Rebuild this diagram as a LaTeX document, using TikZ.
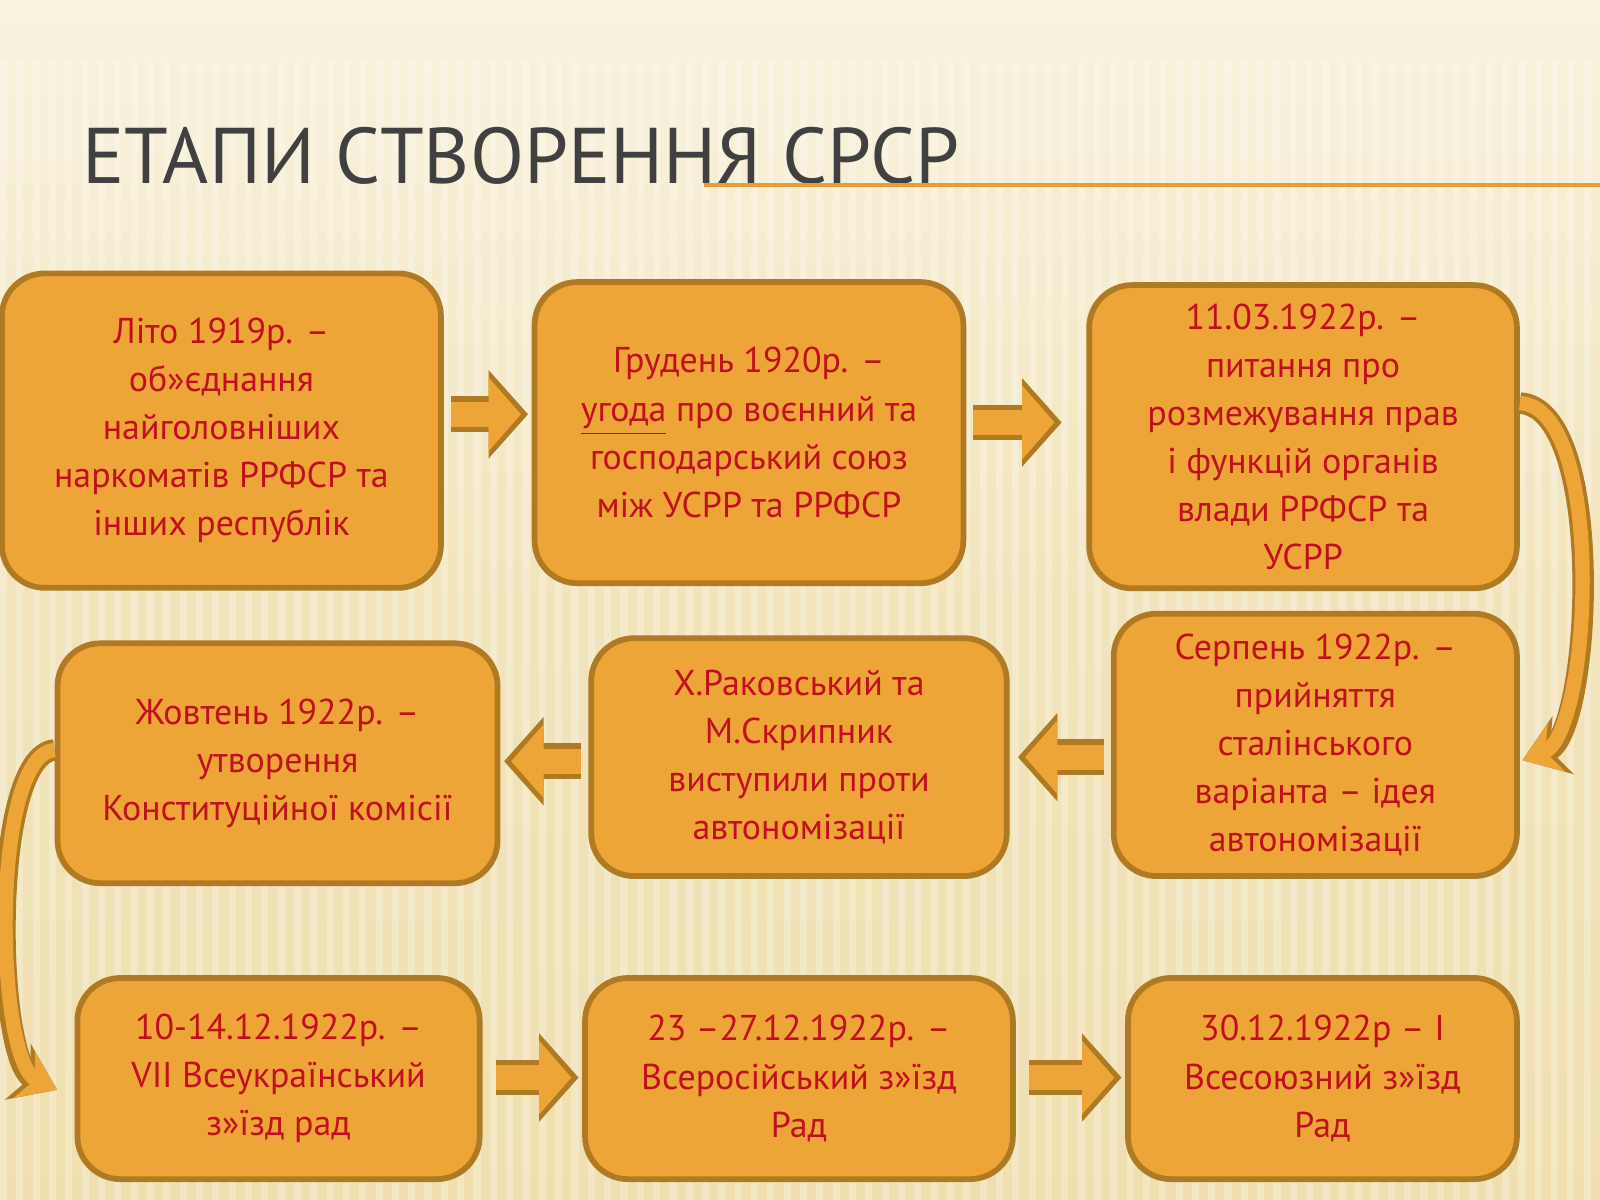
\documentclass[tikz,border=0pt]{standalone}
\usepackage{fontspec}
\setmainfont{PT Sans}
\usetikzlibrary{arrows.meta,shadings}
\definecolor{boxfill}{HTML}{EEA537}
\definecolor{boxline}{HTML}{B07A22}
\definecolor{txt}{HTML}{C0101E}
\definecolor{bgtan}{HTML}{EFDFB0}
\tikzset{
 stage/.style={draw=boxline,line width=1.6pt,fill=boxfill,rounded corners=0.42cm,align=center,text=txt,font=\fontsize{10pt}{13.4pt}\selectfont,inner sep=0pt},
 barrow/.style={line width=7pt,draw=boxfill,-{Triangle[length=9pt,width=20pt]},shorten <=2pt,shorten >=3pt,
   preaction={draw=boxline,line width=10pt,-{Triangle[length=11pt,width=24pt]},shorten <=2pt,shorten >=1pt}},
 carrow/.style={line width=4pt,draw=boxfill,-{Stealth[length=10pt,width=14pt]},
   preaction={draw=boxline,line width=6pt,-{Stealth[length=12pt,width=17pt]}}}
}
\begin{document}
\begin{tikzpicture}[x=0.01cm,y=-0.01cm]
\useasboundingbox (0,0) rectangle (1568,1176);
\shade[top color=bgtan!40!white,bottom color=bgtan,middle color=bgtan!85!white] (0,0) rectangle (1568,1176);
\foreach \i in {0,16,...,1568} \fill[white,opacity=0.25] (\i,60) rectangle ++(7,1116);
\node[anchor=base west,text=black!75,font=\fontsize{22pt}{24pt}\selectfont] (title) at (68,180) {ЕТАПИ СТВОРЕННЯ СРСР};
\coordinate (tl) at (690,181);
\coordinate (tr) at (1568,181);
\draw[boxfill!80!brown,line width=1.2pt] (tl) -- (tr);
\node[stage,minimum width=4.30cm,minimum height=3.08cm] (b1) at (217,422) {Літо 1919р. –\\об»єднання\\найголовніших\\наркоматів РРФСР та\\інших республік};
\node[stage,minimum width=4.20cm,minimum height=2.95cm] (b2) at (734,424) {Грудень 1920р. –\\\underline{угода} про воєнний та\\господарський союз\\між УСРР та РРФСР};
\node[stage,minimum width=4.19cm,minimum height=2.97cm] (b3) at (1277,428) {11.03.1922р. –\\питання про\\розмежування прав\\і функцій органів\\влади РРФСР та\\УСРР};
\node[stage,minimum width=3.95cm,minimum height=2.57cm] (b4) at (1289,730) {Серпень 1922р. –\\прийняття\\сталінського\\варіанта – ідея\\автономізації};
\node[stage,minimum width=4.07cm,minimum height=2.33cm] (b5) at (783,742) {Х.Раковський та\\М.Скрипник\\виступили проти\\автономізації};
\node[stage,minimum width=4.31cm,minimum height=2.35cm] (b6) at (272,748) {Жовтень 1922р. –\\утворення\\Конституційної комісії};
\node[stage,minimum width=3.94cm,minimum height=1.97cm] (b7) at (273,1057) {10-14.12.1922р. –\\VII Всеукраїнський\\з»їзд рад};
\node[stage,minimum width=4.19cm,minimum height=1.97cm] (b8) at (783,1057) {23 –27.12.1922р. –\\Всеросійський з»їзд\\Рад};
\node[stage,minimum width=3.81cm,minimum height=1.97cm] (b9) at (1296,1057) {30.12.1922р – І\\Всесоюзний з»їзд\\Рад};
\coordinate (ya) at (0,406);
\coordinate (yb) at (0,414);
\coordinate (yc) at (0,742);
\coordinate (yd) at (0,746);
\coordinate (ye) at (0,1056);
\coordinate (yf) at (0,395);
\coordinate (yg) at (0,735);
\coordinate (e3) at (1044,414);
\coordinate (e4) at (994,742);
\coordinate (e3end) at (1492,745);
\coordinate (e6end) at (56,1068);
\draw[barrow] (b1.east |- ya) -- (b2.west |- ya);
\draw[barrow] (b2.east |- yb) -- (e3);
\draw[barrow] (b4.west |- yc) -- (e4);
\draw[barrow] (b5.west |- yd) -- (b6.east |- yd);
\draw[barrow] ([xshift=0.06cm]b7.east |- ye) -- (b8.west |- ye);
\draw[barrow] ([xshift=0.06cm]b8.east |- ye) -- (b9.west |- ye);
\draw[carrow] (b3.east |- yf) .. controls (1575,400) and (1560,720) .. (e3end);
\draw[carrow] (b6.west |- yg) .. controls (-10,740) and (-5,1040) .. (e6end);
\end{tikzpicture}
\end{document}
